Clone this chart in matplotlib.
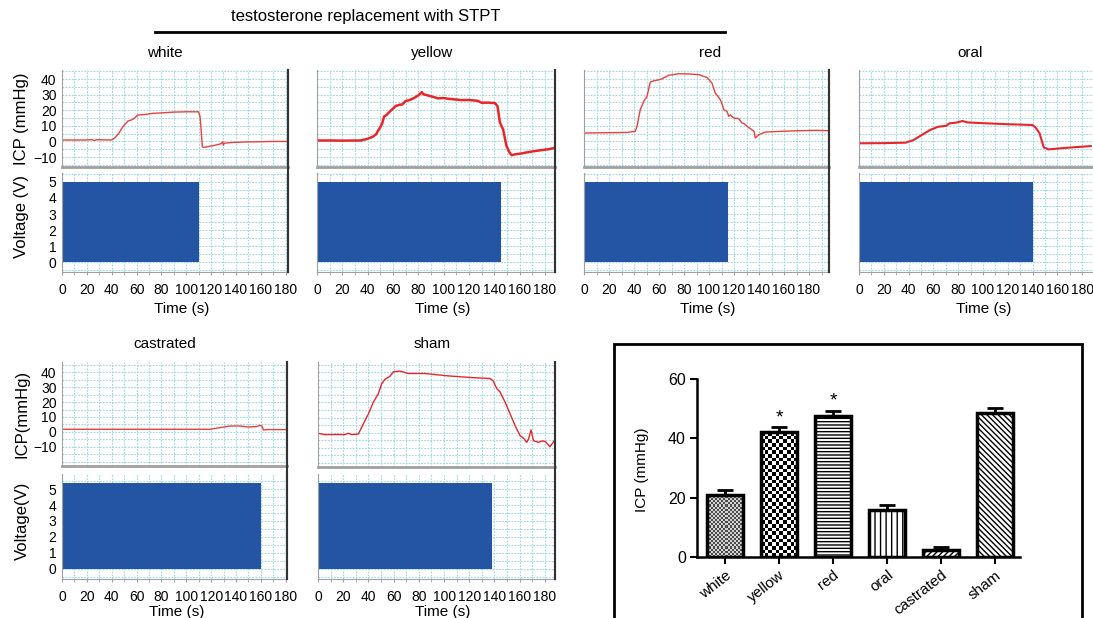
import numpy as np
import matplotlib
matplotlib.use('Agg')
import matplotlib.pyplot as plt
from matplotlib.ticker import MultipleLocator
from matplotlib.lines import Line2D
from matplotlib.patches import Rectangle
from matplotlib.colors import ListedColormap

plt.rcParams['font.family'] = ['Liberation Sans', 'DejaVu Sans']
plt.rcParams['hatch.linewidth'] = 1.0

# ---------------- data ----------------
header = "testosterone replacement with STPT"
panel_titles = ['white', 'yellow', 'red', 'oral', 'castrated', 'sham']

white_t = [0, 20, 24, 26, 28, 40, 43, 46, 49, 53, 57, 61, 67, 73, 80, 90, 100, 110, 111.2, 112.2,
           113, 114, 115, 118, 122, 128, 129.5, 130, 130.5, 132, 138, 143, 150, 160, 170, 182]
white_icp = [0.9, 0.9, 1.2, 0.6, 1.1, 0.9, 2.6, 5.5, 9.4, 13, 14.1, 16.9, 17.3, 18, 18.3, 18.8, 19, 19, 15.8, 6,
             -3.4, -3.8, -3.7, -3.2, -2.7, -1.5, -0.3, -2.5, -1.2, -1.0, -0.6, -0.5, -0.3, -0.2, 0, 0]

yellow_t = [0, 10, 20, 34.7, 40, 44, 46.6, 48, 50.5, 51.5, 53, 55, 57, 60, 62, 65, 67.3, 70, 73, 77,
            80, 82.8, 84, 87.6, 92, 95.5, 100, 103.4, 108, 114, 120, 127, 130, 135, 140.5, 142.6, 144.5,
            147, 149.7, 152, 153.7, 157, 161.6, 166, 172, 178, 183, 187]
yellow_icp = [0.6, 0.6, 0.5, 0.6, 1.7, 3.0, 4.5, 6.5, 9.8, 11.5, 16, 17, 18.8, 21, 22.6, 23.5, 23.7, 25.9, 26.5, 28,
              29.5, 31.6, 30.2, 29.5, 28.5, 27.6, 27.8, 27.4, 27.0, 26.5, 26.6, 26, 24.8, 24.9, 24.6, 22.6, 12,
              7.7, -3, -7, -8.8, -8.2, -7.7, -7.0, -6.2, -5.5, -5, -4.3]

red_t = [0, 20, 35, 41, 42.4, 45, 47.8, 50.4, 53, 55.8, 60, 62.4, 67.8, 75.8, 85, 91.8, 98.4, 102.4, 105, 107,
         109, 110.5, 111.8, 114.4, 115.8, 117, 119.8, 123.8, 126.4, 128, 130.4, 134.4, 136, 137, 139.8, 145,
         158.4, 170, 185, 196]
red_icp = [5.4, 5.6, 5.8, 6.5, 9.7, 20.3, 25.7, 28.9, 38, 38.9, 39.5, 40.2, 42.4, 43.4, 43.2, 42.8, 41, 37.4, 31, 29,
           26.7, 24, 20.3, 19.3, 16.1, 17.0, 15, 14.6, 11.8, 11.5, 9.7, 7.5, 6.5, 2.2, 4.3, 6,
           6.5, 6.8, 7.1, 6.9]

oral_t = [0, 20, 37.5, 44, 50.6, 57.2, 63.8, 70.3, 73, 78, 83.5, 87.4, 95, 103, 112, 121.5, 130, 140, 142.5,
          145.7, 149, 153, 160, 168.8, 176, 187]
oral_icp = [-1.2, -1.1, -0.8, 0.9, 4.1, 7.3, 9.4, 10, 11.6, 12, 13.1, 12.2, 11.9, 11.6, 11.3, 11, 10.8, 10.5, 8.8,
            5.2, -3.8, -5.1, -4.6, -4, -3.6, -3]

castrated_t = [0, 60, 119, 127, 135, 143, 150, 156.5, 159, 160.8, 162, 164.5, 181]
castrated_icp = [1.8, 1.8, 1.8, 2.9, 4, 4, 3.3, 3.6, 4.4, 4, 1.3, 1.6, 1.6]

sham_t = [0, 5.5, 15, 21.4, 24, 26.7, 32, 34.7, 37.3, 40, 43.9, 47.9, 50.5, 53.2, 57.1, 59.8, 65, 71.7, 84.9,
          103.4, 122, 136.5, 139, 141.8, 144.4, 148.4, 152.4, 156.3, 160.3, 163, 165.6, 167, 169, 170.9,
          174.9, 177.5, 180.2, 184, 187]
sham_icp = [-0.4, -1.3, -1.2, -1.3, -0.4, -1.3, -0.9, 3.6, 8, 12.4, 20.2, 25.8, 32.4, 35.3, 37.3, 40.2, 40.7, 39.1,
            39.1, 37.5, 36.4, 35.8, 34.2, 29.1, 26.9, 20.2, 12.4, 4.7, -2, -3.6, -6.4, -4.2, 1.8, -5.3,
            -6.4, -5.5, -5.8, -9.3, -5.8]

stim_end = [110, 145, 115, 140, 160, 138]      # s
stim_volt = [5, 5, 5, 5, 5.4, 5.4]             # V

icp_ticks = [-10, 0, 10, 20, 30, 40]
volt_ticks = [0, 1, 2, 3, 4, 5]

bar_groups = ['white', 'yellow', 'red', 'oral', 'castrated', 'sham']
bar_means = [21, 42, 47.5, 16, 2.5, 48.5]
bar_sem = [1.7, 1.7, 1.8, 1.6, 0.8, 1.7]
bar_sig = ['', '*', '*', '', '', '']
bar_yticks = [0, 20, 40, 60]

traces_t = [white_t, yellow_t, red_t, oral_t, castrated_t, sham_t]
traces_icp = [white_icp, yellow_icp, red_icp, oral_icp, castrated_icp, sham_icp]

# ---------------- layout ----------------
W, H = 1093, 618
fig = plt.figure(figsize=(W / 100, H / 100), dpi=100)


def ax_px(x0, y0, x1, y1):
    return fig.add_axes([x0 / W, 1 - y1 / H, (x1 - x0) / W, (y1 - y0) / H])


GRID = '#9fd8e2'
BLUE = '#2455a4'
SPG = '#a0a0a0'

layout = [
    dict(x=(62, 288), icp=(70, 167), volt=(173, 272), xmax=182, iyl=(-16.4, 45.8), vyl=(-0.62, 5.56),
         showy=True, ylab=('ICP (mmHg)', 'Voltage (V)'), title=(165, 53), tlab=(182, 309), lw=1.0, col='#e8413c'),
    dict(x=(317, 555), icp=(70, 167), volt=(173, 272), xmax=188, iyl=(-16.4, 45.8), vyl=(-0.62, 5.56),
         showy=False, title=(432, 53), tlab=(443, 309), lw=1.8, col='#e8262a'),
    dict(x=(584, 829), icp=(70, 167), volt=(173, 272), xmax=196, iyl=(-16.4, 45.8), vyl=(-0.62, 5.56),
         showy=False, title=(710, 53), tlab=(708, 309), lw=1.0, col='#e8413c'),
    dict(x=(859, 1097), icp=(70, 167), volt=(173, 272), xmax=192, iyl=(-16.4, 45.8), vyl=(-0.62, 5.56),
         showy=False, title=(970, 53), tlab=(984, 309), lw=1.5, col='#e8262a'),
    dict(x=(62, 287), icp=(362, 466), volt=(474, 579), xmax=181, iyl=(-22.7, 46.7), vyl=(-0.63, 5.94),
         showy=True, ylab=('ICP(mmHg)', 'Voltage(V)'), title=(165, 344), tlab=(177, 612), lw=1.0, col='#e8413c'),
    dict(x=(318, 555), icp=(362, 467), volt=(474, 579), xmax=188, iyl=(-22.7, 46.7), vyl=(-0.63, 5.94),
         showy=False, title=(432, 344), tlab=(443, 612), lw=1.0, col='#e8262a'),
]

for i, L in enumerate(layout):
    x0, x1 = L['x']
    axi = ax_px(x0, L['icp'][0], x1, L['icp'][1])
    axv = ax_px(x0, L['volt'][0], x1, L['volt'][1])
    for ax in (axi, axv):
        ax.set_xlim(0, L['xmax'])
        ax.xaxis.set_major_locator(MultipleLocator(20))
        ax.xaxis.set_minor_locator(MultipleLocator(10))
        ax.grid(True, which='both', color=GRID, linestyle=(0, (1.6, 1.2)), linewidth=0.8)
        ax.set_axisbelow(True)
        ax.spines['top'].set_visible(False)
        ax.spines['left'].set_color(SPG)
        ax.spines['bottom'].set_color(SPG)
        ax.spines['right'].set_color('#333333')
        ax.spines['right'].set_linewidth(1.5)
        ax.tick_params(which='both', colors=SPG, length=2, labelcolor='black', labelsize=10)
    axi.plot(traces_t[i], traces_icp[i], color=L['col'], lw=L['lw'])
    axi.set_ylim(*L['iyl'])
    axi.yaxis.set_minor_locator(MultipleLocator(5))
    axi.set_yticks(icp_ticks)
    axi.tick_params(axis='x', which='both', labelbottom=False, length=0)
    axi.spines['bottom'].set_linewidth(2)

    axv.bar([0], [stim_volt[i]], width=stim_end[i], align='edge', color=BLUE, zorder=2)
    axv.set_ylim(*L['vyl'])
    axv.yaxis.set_minor_locator(MultipleLocator(0.5))
    axv.set_yticks(volt_ticks)
    axv.tick_params(axis='x', which='both', length=2, pad=6)
    for ax in (axi, axv):
        ax.tick_params(axis='y', which='both', length=0, pad=4, labelleft=L['showy'])
    fig.add_artist(Line2D([x1 / W, x1 / W], [1 - L['icp'][0] / H, 1 - L['volt'][1] / H],
                          color='#333333', lw=1.5))
    fig.text(L['title'][0] / W, 1 - L['title'][1] / H, panel_titles[i], ha='center', va='center', fontsize=11)
    fig.text(L['tlab'][0] / W, 1 - L['tlab'][1] / H, 'Time (s)', ha='center', va='center', fontsize=11)
    if L['showy']:
        fig.text(22 / W, 1 - (sum(L['icp']) / 2) / H, L['ylab'][0], rotation=90, ha='center', va='center', fontsize=12)
        fig.text(22 / W, 1 - (sum(L['volt']) / 2 - 6) / H, L['ylab'][1], rotation=90, ha='center', va='center', fontsize=12)

# header
fig.text(366 / W, 1 - 17 / H, header, ha='center', va='center', fontsize=12)
fig.add_artist(Line2D([155 / W, 725 / W], [1 - 32 / H, 1 - 32 / H], color='black', lw=2))

# ---------------- bar chart ----------------
fig.add_artist(Rectangle((614 / W, -0.05), (1082 - 614) / W, 1 - 344 / H + 0.05,
                         transform=fig.transFigure, fill=False, lw=2, edgecolor='black'))
axb = ax_px(697, 379, 1020, 557)
xpos = np.arange(len(bar_groups))
hatches = [None, None, '-----', '|||', '//////', '\\\\\\\\\\\\']
bars = axb.bar(xpos, bar_means, width=0.67, facecolor='white', edgecolor='black', linewidth=2.5, zorder=2)
for b, h in zip(bars, hatches):
    if h:
        b.set_hatch(h)
    else:
        b.set_facecolor('none')


def checker(bar, cell_w, cell_h, colors):
    x0, w, h = bar.get_x(), bar.get_width(), bar.get_height()
    nx = max(1, int(round(w / cell_w)))
    ny = max(1, int(round(h / cell_h)))
    arr = np.add.outer(np.arange(ny), np.arange(nx)) % 2
    im = axb.imshow(arr, cmap=ListedColormap(colors), vmin=0, vmax=1, extent=(x0, x0 + w, 0, h),
                    aspect='auto', interpolation='nearest', zorder=1.5)
    im.set_clip_path(bar)


checker(bars[0], 0.037, 0.7, ['#4a4a4a', '#d4d4d4'])
checker(bars[1], 0.067, 1.25, ['black', 'white'])

axb.errorbar(xpos, bar_means, yerr=[np.zeros(len(bar_means)), bar_sem], fmt='none', ecolor='black',
             elinewidth=2, capsize=6, capthick=2, zorder=3)
for x, m, s, sg in zip(xpos, bar_means, bar_sem, bar_sig):
    if sg:
        axb.text(x, m + s + 3.2, sg, ha='center', va='center', fontsize=14)
axb.set_xlim(-0.52, 5.46)
axb.set_ylim(0, 60)
axb.set_yticks(bar_yticks)
axb.set_xticks(xpos)
axb.set_xticklabels(bar_groups, rotation=38, ha='right', rotation_mode='anchor', fontsize=11)
for s in ('top', 'right'):
    axb.spines[s].set_visible(False)
for s in ('left', 'bottom'):
    axb.spines[s].set_linewidth(1.8)
axb.tick_params(axis='y', labelsize=11.5)
axb.tick_params(direction='out', length=5, width=1.5, pad=3)
fig.text(642 / W, 1 - 470 / H, 'ICP (mmHg)', rotation=90, ha='center', va='center', fontsize=11)

fig.savefig('out.png', dpi=100)
